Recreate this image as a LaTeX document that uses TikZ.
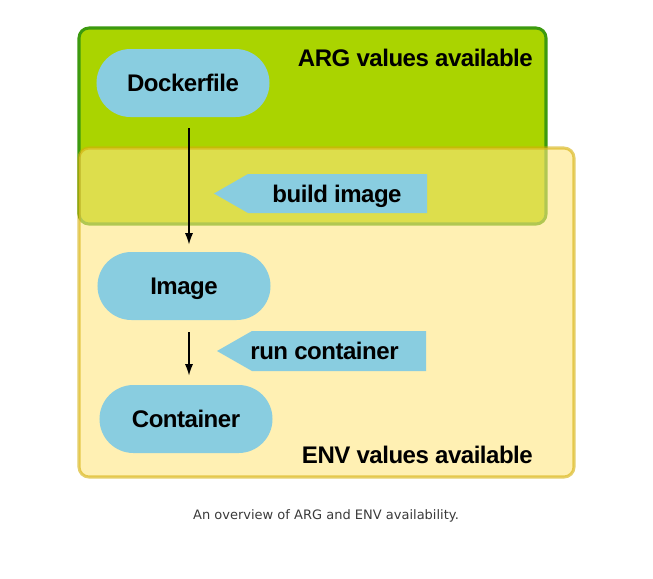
\documentclass[tikz,border=0pt]{standalone}
\usepackage{fontspec}
\usetikzlibrary{shapes.misc,arrows.meta}
\newfontfamily\boxfont[LetterSpace=-2]{Liberation Sans}
\newfontfamily\capfont{DejaVu Sans}
\definecolor{argfill}{HTML}{AAD400}
\definecolor{argline}{HTML}{3C9A0E}
\definecolor{envfill}{HTML}{FFE680}
\definecolor{envline}{RGB}{212,175,8}
\definecolor{pillblue}{HTML}{89CDE0}
\definecolor{captext}{HTML}{3A3A3A}
\tikzset{
	big/.style={font=\boxfont\bfseries\fontsize{20.5}{24}\selectfont},
	pill/.style={big, rounded rectangle, fill=pillblue, minimum width=5.19cm, minimum height=2.04cm, inner sep=0pt, text height=14.7pt, text depth=0pt},
	cue/.style={big, inner sep=0pt, text height=14.7pt, text depth=0pt},
	flow/.style={-{Latex[length=10pt,width=7pt]}, line width=1.5pt}
}

\begin{document}
\begin{tikzpicture}[x=0.03cm,y=-0.03cm]
	\useasboundingbox (0,0) rectangle (653,578);
	% the two areas
	\draw[argline, fill=argfill, line width=2.6pt, rounded corners=0.3cm] (79,28) rectangle (546,224);
	\draw[envline, fill=envfill, line width=2.6pt, rounded corners=0.3cm, opacity=0.6] (79,148) rectangle (574,477);
	\node[big, anchor=base east, inner sep=0pt] (argtxt) at (533,66) {ARG values available};
	\node[big, anchor=base east, inner sep=0pt] (envtxt) at (533,463) {ENV values available};
	% steps
	\node[pill] (dock) at (183,83) {Dockerfile};
	\node[pill] (img) at (184,286) {Image};
	\node[pill] (cont) at (186,419) {Container};
	\draw[flow, shorten <=11*0.03cm, shorten >=7*0.03cm] ([xshift=0.18cm]dock.south) -- ([xshift=0.15cm]img.north);
	\draw[flow, shorten <=12*0.03cm, shorten >=9*0.03cm] ([xshift=0.15cm]img.south) -- ([xshift=0.09cm]cont.north);
	% labels
	\fill[pillblue] (214,193.5) -- (248,174) -- (427,174) -- (427,213) -- (248,213) -- cycle;
	\node[cue] (build) at (337,193.5) {build image};
	\fill[pillblue] (217,351) -- (252,331) -- (426,331) -- (426,371) -- (252,371) -- cycle;
	\node[cue] (run) at (324.5,351) {run container};
	% caption
	\node[font=\capfont\fontsize{11.1}{13}\selectfont, text=captext] (cap) at (326,516) {An overview of ARG and ENV availability.};
\end{tikzpicture}
\end{document}
